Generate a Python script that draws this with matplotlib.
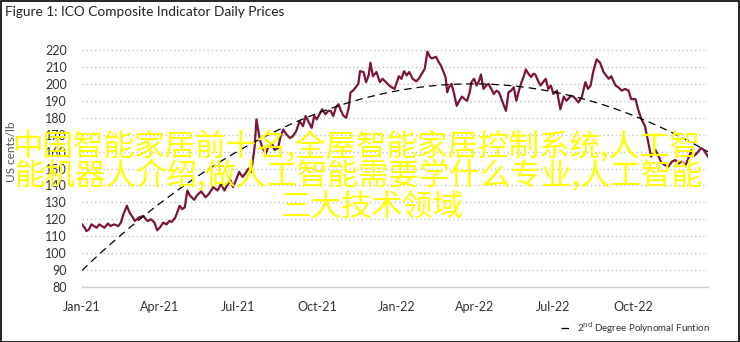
import matplotlib
matplotlib.use("Agg")
import matplotlib.pyplot as plt
import matplotlib.dates as mdates
from matplotlib.patches import Rectangle
import numpy as np
import pandas as pd

# ICO composite indicator, daily prices (US cents/lb)
price_dates = [
    "2021-01-01", "2021-01-04", "2021-01-06", "2021-01-09", "2021-01-12", "2021-01-15",
    "2021-01-18", "2021-01-21", "2021-01-24", "2021-01-27", "2021-01-31", "2021-02-03",
    "2021-02-07", "2021-02-12", "2021-02-15", "2021-02-18", "2021-02-22", "2021-02-25",
    "2021-03-01", "2021-03-03", "2021-03-08", "2021-03-13", "2021-03-16", "2021-03-18",
    "2021-03-22", "2021-03-26", "2021-03-29", "2021-04-01", "2021-04-05", "2021-04-09",
    "2021-04-12", "2021-04-15", "2021-04-19", "2021-04-22", "2021-04-24", "2021-04-27",
    "2021-04-30", "2021-05-03", "2021-05-06", "2021-05-11", "2021-05-14", "2021-05-19",
    "2021-05-24", "2021-05-28", "2021-06-02", "2021-06-07", "2021-06-11", "2021-06-15",
    "2021-06-18", "2021-06-22", "2021-06-25", "2021-06-29", "2021-07-02", "2021-07-06",
    "2021-07-09", "2021-07-13", "2021-07-16", "2021-07-20", "2021-07-22", "2021-07-26",
    "2021-07-29", "2021-08-02", "2021-08-05", "2021-08-09", "2021-08-12", "2021-08-16",
    "2021-08-19", "2021-08-22", "2021-08-26", "2021-08-30", "2021-09-02", "2021-09-06",
    "2021-09-10", "2021-09-14", "2021-09-17", "2021-09-21", "2021-09-24", "2021-09-27",
    "2021-09-30", "2021-10-04", "2021-10-06", "2021-10-10", "2021-10-13", "2021-10-16",
    "2021-10-19", "2021-10-22", "2021-10-25", "2021-10-28", "2021-10-31", "2021-11-03",
    "2021-11-06", "2021-11-08", "2021-11-11", "2021-11-14", "2021-11-17", "2021-11-19",
    "2021-11-23", "2021-11-26", "2021-11-29", "2021-12-01", "2021-12-04", "2021-12-08",
    "2021-12-12", "2021-12-15", "2021-12-18", "2021-12-21", "2021-12-24", "2021-12-29",
    "2022-01-03", "2022-01-06", "2022-01-09", "2022-01-12", "2022-01-15", "2022-01-19",
    "2022-01-23", "2022-01-26", "2022-01-29", "2022-02-02", "2022-02-05", "2022-02-08",
    "2022-02-10", "2022-02-15", "2022-02-18", "2022-02-21", "2022-02-26", "2022-02-28",
    "2022-03-02", "2022-03-05", "2022-03-08", "2022-03-11", "2022-03-14", "2022-03-17",
    "2022-03-20", "2022-03-23", "2022-03-26", "2022-03-28", "2022-03-31", "2022-04-03",
    "2022-04-06", "2022-04-08", "2022-04-11", "2022-04-14", "2022-04-17", "2022-04-20",
    "2022-04-23", "2022-04-26", "2022-04-29", "2022-05-04", "2022-05-07", "2022-05-10",
    "2022-05-13", "2022-05-16", "2022-05-19", "2022-05-22", "2022-05-25", "2022-05-28",
    "2022-05-30", "2022-06-02", "2022-06-05", "2022-06-08", "2022-06-10", "2022-06-13",
    "2022-06-16", "2022-06-19", "2022-06-22", "2022-06-25", "2022-06-28", "2022-07-01",
    "2022-07-05", "2022-07-09", "2022-07-13", "2022-07-16", "2022-07-18", "2022-07-21",
    "2022-07-24", "2022-07-27", "2022-07-30", "2022-08-03", "2022-08-07", "2022-08-10",
    "2022-08-13", "2022-08-16", "2022-08-20", "2022-08-24", "2022-08-28", "2022-08-31",
    "2022-09-03", "2022-09-06", "2022-09-09", "2022-09-11", "2022-09-14", "2022-09-18",
    "2022-09-22", "2022-09-26", "2022-09-29", "2022-10-04", "2022-10-07", "2022-10-11",
    "2022-10-15", "2022-10-19", "2022-10-22", "2022-10-25", "2022-10-27", "2022-10-31",
    "2022-11-03", "2022-11-07", "2022-11-11", "2022-11-15", "2022-11-19", "2022-11-23",
    "2022-11-27", "2022-12-01", "2022-12-05", "2022-12-08", "2022-12-10", "2022-12-14",
    "2022-12-19", "2022-12-22", "2022-12-27",
]
price_values = [
    117, 115, 113, 114, 117, 116,
    115, 117, 116, 115, 117.5, 116,
    117, 116, 118, 123, 128, 124,
    121, 119, 121, 122, 120, 119,
    120, 118, 113.5, 115, 118, 117,
    119, 118.5, 121, 125, 128, 126,
    127, 137, 134, 131.5, 134, 136.5,
    133, 135, 139, 137, 141, 137,
    140, 143, 139, 144, 148, 145,
    147, 150, 148, 163, 179, 167,
    162, 159, 163, 165, 161, 162,
    169, 173, 170, 168, 169, 172,
    178, 175, 181, 177, 174, 181,
    179, 183, 185, 182, 184, 184,
    181, 186, 188, 184, 181, 180,
    186, 195, 196, 198, 200, 207.5,
    207, 201, 205, 212.5, 204.5, 207,
    201, 203, 201.5, 200, 198.5, 197,
    204.5, 203, 207.5, 205, 207, 203,
    201.5, 203, 205.5, 209, 219, 216,
    215, 216, 213, 210.5, 204, 195,
    198, 200, 194, 187, 190, 192.5,
    191, 190, 195, 201, 203, 199,
    202, 205.5, 197, 199, 200, 197,
    194, 196, 195, 188, 184, 195,
    196, 198, 190, 196, 201, 205,
    208.5, 206, 204, 206, 205.5, 202,
    199, 201, 203, 197, 199, 194,
    196, 185, 192.5, 190, 191, 193,
    192.5, 191, 189, 192.5, 201, 197,
    199, 207, 214.5, 212.5, 207, 205,
    203, 204.5, 201, 199, 198, 196,
    197, 196, 191, 191, 185, 179,
    175, 165, 157, 159, 161, 157,
    153.5, 152, 151, 154, 155, 153,
    154, 152, 157, 161, 157, 159,
    162, 161, 157,
]

y_ticks = list(range(80, 230, 10))
x_tick_dates = ["2021-01-01", "2021-04-01", "2021-07-01", "2021-10-01",
                "2022-01-01", "2022-04-01", "2022-07-01", "2022-10-01"]

title = "Figure 1: ICO Composite Indicator Daily Prices"
y_label = "US cents/lb"
trend_label = "2$^{\\rm nd}$ Degree Polynomal Funtion"
overlay_lines = [
    "中国智能家居前十名,全屋智能家居控制系统,人工智",
    "能机器人介绍,做人工智能需要学什么专业,人工智能",
    "三大技术领域",
]

dates = pd.to_datetime(price_dates)
prices = np.array(price_values)

# second-degree trend fitted on the price series
days = (dates - dates[0]).days.values.astype(float)
coef = np.polyfit(days, prices, 2)
trend = np.polyval(coef, days)

plt.rcParams["font.family"] = ["Lato", "DejaVu Sans"]

W, H = 740, 342
fig = plt.figure(figsize=(W / 100, H / 100), dpi=100)
fig.patch.set_facecolor("white")

ax = fig.add_axes([82 / W, (H - 287) / H, 626 / W, 237 / H])
ax.plot(dates, prices, color="#7a1535", lw=1.6, zorder=3)
ax.plot(dates, trend, color="black", lw=0.9, ls=(0, (6, 4)), zorder=4,
        label=trend_label)

ax.set_xlim(dates[0], dates[-1])
ax.set_ylim(80, 220)
ax.set_yticks(y_ticks)
ax.set_xticks(pd.to_datetime(x_tick_dates))
ax.xaxis.set_major_formatter(mdates.DateFormatter("%b-%y"))
ax.tick_params(length=0, labelsize=9, colors="#333333")
ax.tick_params(axis="y", pad=11)
ax.tick_params(axis="x", pad=10)
for s in ["top", "right", "left"]:
    ax.spines[s].set_visible(False)
ax.spines["bottom"].set_color("#d0d0d0")
ax.spines["bottom"].set_linewidth(1)
ax.grid(axis="y", color="#c4c4c4", ls=(0, (1, 2)), lw=1)
ax.set_axisbelow(True)

fig.text(5 / W, 1 - 12 / H, title, fontsize=9.8, color="#222222",
         ha="left", va="center")
fig.text(12 / W, 1 - 152 / H, y_label, fontsize=8.5, color="#555555",
         rotation=90, ha="center", va="center")

fig.legend(loc="center right", bbox_to_anchor=(714 / W, 1 - 328 / H),
           frameon=False, fontsize=7, handlelength=1.3, handletextpad=0.4,
           labelcolor="#333333", borderaxespad=0)

# yellow caption running across the plot
overlay_pos = [(356, 146), (358, 176), (372, 207)]
for line, (px, py) in zip(overlay_lines, overlay_pos):
    fig.text(px / W, 1 - py / H, line, fontsize=22, color="#ffff00",
             family=["Noto Sans CJK SC", "DejaVu Sans"], weight="medium",
             ha="center", va="center", zorder=10)

fig.patches.append(Rectangle((0.5 / W, 0.5 / H), 1 - 1.5 / W, 1 - 1.5 / H,
                             transform=fig.transFigure, fill=False,
                             edgecolor="black", lw=1.2))

fig.savefig("out.png", dpi=100)
